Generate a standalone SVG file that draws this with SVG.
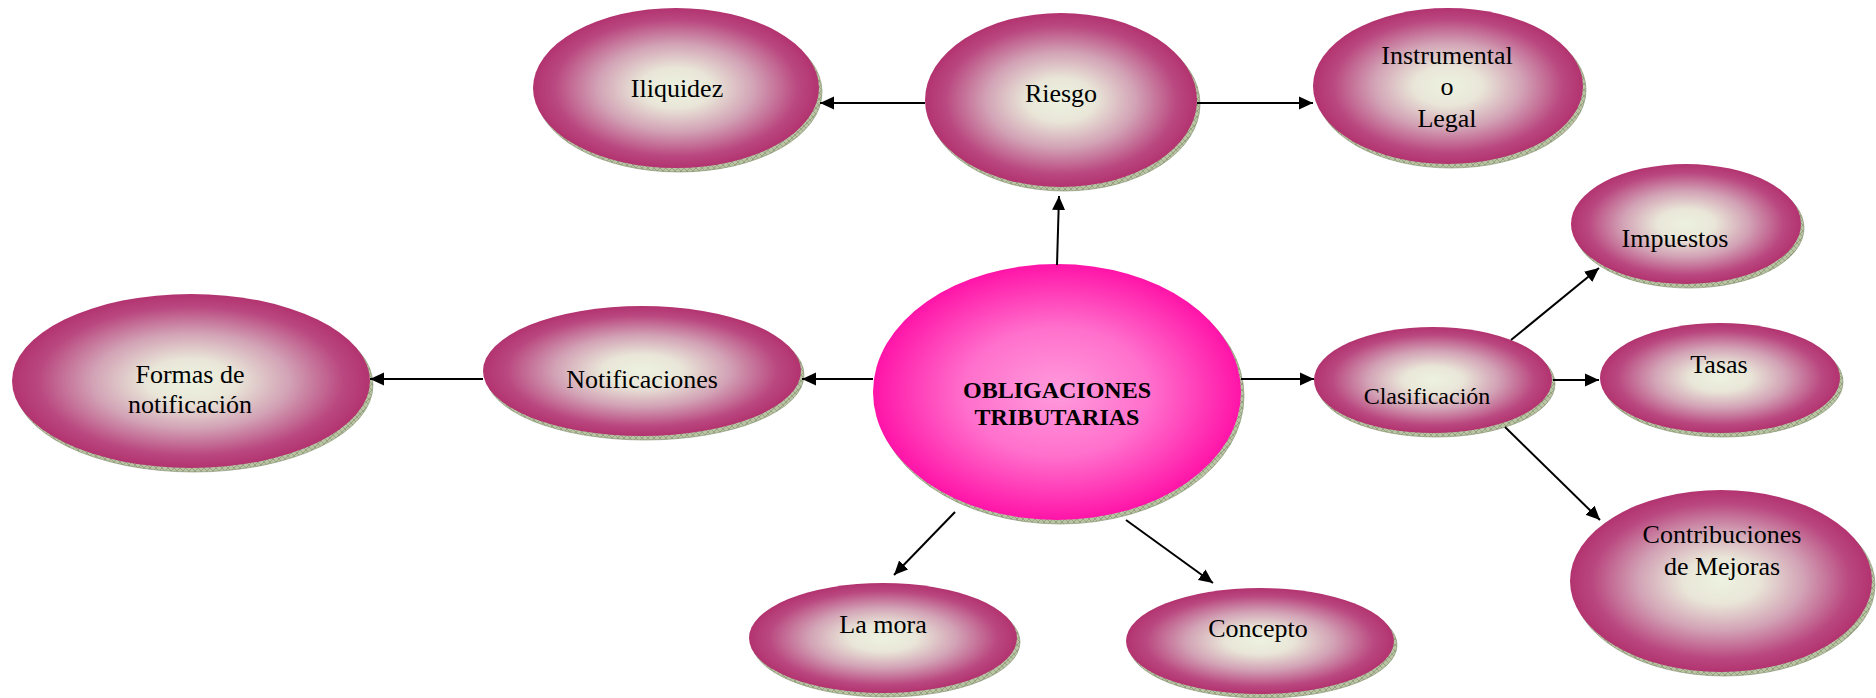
<svg xmlns="http://www.w3.org/2000/svg" width="1876" height="698" viewBox="0 0 1876 698">
<style>
.t{font-family:"Liberation Serif","Times New Roman",serif;font-size:26px;fill:#000;text-anchor:middle}
.s{font-size:24px}
.b{font-weight:bold;font-size:24px}
.node{fill:url(#g)}
.shadow{fill:url(#hatch);stroke:#7d8a66;stroke-width:0.6}
.c{stroke:#000;stroke-width:2;fill:none;marker-end:url(#ah)}
</style>
<defs>
<radialGradient id="g" cx="0.5" cy="0.5" r="0.5">
<stop offset="0" stop-color="#edf2e0"/>
<stop offset="0.25" stop-color="#e9e6d8"/>
<stop offset="0.55" stop-color="#d2a2b5"/>
<stop offset="0.85" stop-color="#ba4880"/>
<stop offset="1" stop-color="#b2336f"/>
</radialGradient>
<radialGradient id="gc" cx="0.5" cy="0.5" r="0.5">
<stop offset="0" stop-color="#ff9bdc"/>
<stop offset="0.5" stop-color="#ff70cc"/>
<stop offset="1" stop-color="#ff14a8"/>
</radialGradient>
<pattern id="hatch" width="6" height="6" patternUnits="userSpaceOnUse">
<rect width="6" height="6" fill="#b9c4a4"/>
<path d="M0,0 L6,6 M6,0 L0,6" stroke="#7f8c68" stroke-width="0.6"/>
</pattern>
<marker id="ah" markerUnits="userSpaceOnUse" markerWidth="14" markerHeight="14" refX="14" refY="7" orient="auto">
<path d="M0,0.5 L14,7 L0,13.5 z" fill="#000"/>
</marker>
</defs>
<g id="node-iliquidez">
<ellipse class="shadow" cx="679" cy="92" rx="143" ry="80"/>
<ellipse class="node" cx="676" cy="88" rx="143" ry="80"/>
<text class="t" x="677" y="97">Iliquidez</text>
</g>
<g id="node-riesgo">
<ellipse class="shadow" cx="1064" cy="104" rx="136" ry="87"/>
<ellipse class="node" cx="1061" cy="100" rx="136" ry="87"/>
<text class="t" x="1061" y="102">Riesgo</text>
</g>
<g id="node-instrumental">
<ellipse class="shadow" cx="1451" cy="90" rx="135" ry="78"/>
<ellipse class="node" cx="1448" cy="86" rx="135" ry="78"/>
<text class="t" x="1447" y="64">Instrumental</text>
<text class="t" x="1447" y="95">o</text>
<text class="t" x="1447" y="127">Legal</text>
</g>
<g id="node-obligaciones">
<ellipse class="shadow" cx="1060" cy="396" rx="184" ry="128"/>
<ellipse cx="1057" cy="392" rx="184" ry="128" fill="url(#gc)"/>
<text class="t b" x="1057" y="398">OBLIGACIONES</text>
<text class="t b" x="1057" y="425">TRIBUTARIAS</text>
</g>
<g id="node-notificaciones">
<ellipse class="shadow" cx="645" cy="375" rx="159" ry="65"/>
<ellipse class="node" cx="642" cy="371" rx="159" ry="65"/>
<text class="t" x="642" y="388">Notificaciones</text>
</g>
<g id="node-formas">
<ellipse class="shadow" cx="194" cy="385" rx="179" ry="87"/>
<ellipse class="node" cx="191" cy="381" rx="179" ry="87"/>
<text class="t" x="190" y="383">Formas de</text>
<text class="t" x="190" y="413">notificación</text>
</g>
<g id="node-clasificacion">
<ellipse class="shadow" cx="1436" cy="384" rx="119" ry="53"/>
<ellipse class="node" cx="1433" cy="380" rx="119" ry="53"/>
<text class="t s" x="1427" y="404">Clasificación</text>
</g>
<g id="node-impuestos">
<ellipse class="shadow" cx="1689" cy="228" rx="115" ry="60"/>
<ellipse class="node" cx="1686" cy="224" rx="115" ry="60"/>
<text class="t" x="1675" y="247">Impuestos</text>
</g>
<g id="node-tasas">
<ellipse class="shadow" cx="1723" cy="382" rx="120" ry="55"/>
<ellipse class="node" cx="1720" cy="378" rx="120" ry="55"/>
<text class="t" x="1719" y="373">Tasas</text>
</g>
<g id="node-contribuciones">
<ellipse class="shadow" cx="1724" cy="585" rx="151" ry="91"/>
<ellipse class="node" cx="1721" cy="581" rx="151" ry="91"/>
<text class="t" x="1722" y="543">Contribuciones</text>
<text class="t" x="1722" y="575">de Mejoras</text>
</g>
<g id="node-lamora">
<ellipse class="shadow" cx="886" cy="642" rx="134" ry="55"/>
<ellipse class="node" cx="883" cy="638" rx="134" ry="55"/>
<text class="t" x="883" y="633">La mora</text>
</g>
<g id="node-concepto">
<ellipse class="shadow" cx="1263" cy="645" rx="134" ry="53"/>
<ellipse class="node" cx="1260" cy="641" rx="134" ry="53"/>
<text class="t" x="1258" y="637">Concepto</text>
</g>
<g id="connectors">
<line class="c" x1="1057" y1="265" x2="1059" y2="196"/>
<line class="c" x1="925" y1="103" x2="820" y2="103"/>
<line class="c" x1="1197" y1="103" x2="1313" y2="103"/>
<line class="c" x1="873" y1="379" x2="802" y2="379"/>
<line class="c" x1="483" y1="379" x2="370" y2="379"/>
<line class="c" x1="1241" y1="379" x2="1314" y2="379"/>
<line class="c" x1="1511" y1="340" x2="1599" y2="268"/>
<line class="c" x1="1553" y1="380" x2="1599" y2="380"/>
<line class="c" x1="1505" y1="427" x2="1600" y2="520"/>
<line class="c" x1="955" y1="512" x2="894" y2="575"/>
<line class="c" x1="1126" y1="520" x2="1213" y2="583"/>
</g>
</svg>
